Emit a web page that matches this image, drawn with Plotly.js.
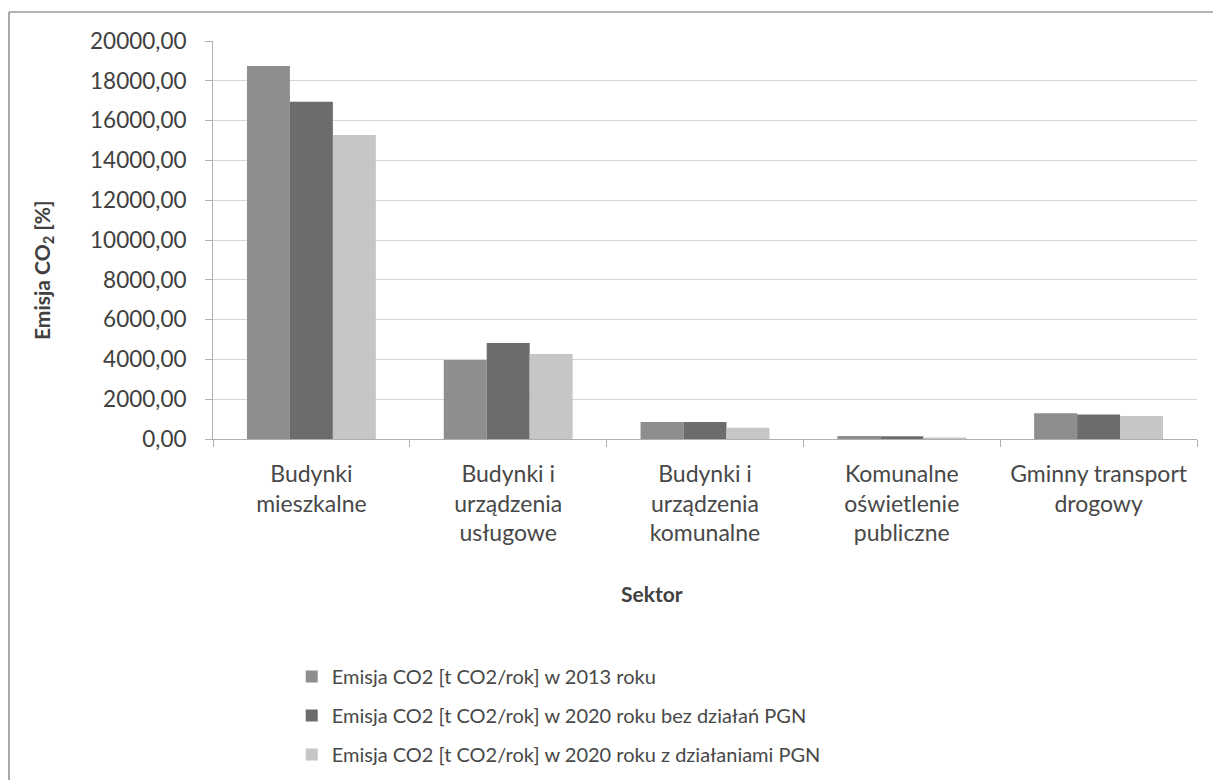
<!DOCTYPE html>
<html>
<head>
<meta charset="utf-8">
<script src="https://cdn.plot.ly/plotly-3.0.1.min.js"></script>
<style>
  html, body { margin: 0; padding: 0; background: #fff; }
  #chart { width: 1213px; height: 780px; }
</style>
</head>
<body>
<div id="chart"></div>
<script>
const categories = [
  "Budynki<br>mieszkalne",
  "Budynki i<br>urządzenia<br>usługowe",
  "Budynki i<br>urządzenia<br>komunalne",
  "Komunalne<br>oświetlenie<br>publiczne",
  "Gminny transport<br>drogowy"
];
const seriesNames = [
  "Emisja CO2 [t CO2/rok] w 2013 roku",
  "Emisja CO2 [t CO2/rok] w 2020 roku bez działań PGN",
  "Emisja CO2 [t CO2/rok] w 2020 roku z działaniami PGN"
];
const emisja2013 = [18750, 3970, 860, 150, 1300];
const emisja2020bez = [16950, 4820, 850, 140, 1230];
const emisja2020z = [15280, 4270, 560, 70, 1150];
const yTicks = [0, 2000, 4000, 6000, 8000, 10000, 12000, 14000, 16000, 18000, 20000];

const colors = ["#8e8e8e", "#6c6c6c", "#c6c6c6"];
const values = [emisja2013, emisja2020bez, emisja2020z];
const FONT = "Lato, 'Open Sans', sans-serif";

const traces = values.map((v, i) => ({
  type: "bar",
  x: categories,
  y: v,
  name: seriesNames[i],
  legendgroup: "g" + i,
  marker: { color: colors[i], line: { color: colors[i], width: 0 } },
  hoverinfo: "skip"
}));

const layout = {
  width: 1213,
  height: 780,
  paper_bgcolor: "#ffffff",
  plot_bgcolor: "#ffffff",
  separators: ", ",
  margin: { l: 213, r: 16, t: 41, b: 341, autoexpand: false },
  barmode: "group",
  bargap: 0.345,
  bargroupgap: 0,
  font: { family: FONT, color: "#404040", size: 20 },
  showlegend: true,
  legend: {
    orientation: "v",
    x: 0.080, xanchor: "left",
    y: -0.548, yanchor: "top",
    font: { family: FONT, size: 20, color: "#484848" },
    tracegroupgap: 10,
    itemwidth: 30,
    traceorder: "grouped",
    bgcolor: "rgba(0,0,0,0)"
  },
  xaxis: {
    type: "category",
    showgrid: false,
    showline: true,
    linecolor: "#b0b0b0",
    linewidth: 1,
    ticks: "outside",
    tickson: "boundaries",
    ticklen: 7,
    tickcolor: "#b0b0b0",
    tickfont: { family: FONT, size: 23, color: "#484848" },
    ticklabelstandoff: 14,
    fixedrange: true
  },
  yaxis: {
    range: [0, 20000],
    tickvals: yTicks,
    tickformat: ".2f",
    showgrid: true,
    gridcolor: "#d6d6d6",
    gridwidth: 1,
    showline: true,
    linecolor: "#b0b0b0",
    linewidth: 1,
    ticks: "outside",
    ticklen: 7,
    tickcolor: "#b0b0b0",
    tickfont: { family: FONT, size: 22.5, color: "#404040" },
    ticklabelstandoff: 14,
    zeroline: false,
    fixedrange: true
  },
  annotations: [
    {
      xref: "paper", yref: "paper",
      x: -0.1728, y: 0.4246,
      xanchor: "center", yanchor: "middle",
      textangle: -90,
      showarrow: false,
      text: "<b>Emisja CO<sub>2</sub> [%]</b>",
      font: { family: FONT, size: 21, color: "#404040" }
    },
    {
      xref: "paper", yref: "paper",
      x: 0.446, y: -0.387,
      xanchor: "center", yanchor: "middle",
      showarrow: false,
      text: "<b>Sektor</b>",
      font: { family: FONT, size: 21, color: "#404040" }
    }
  ],
  shapes: [
    {
      type: "line", xref: "paper", yref: "paper",
      x0: -0.2073, x1: -0.2073, y0: 1.0729, y1: -0.86,
      line: { color: "#8a8a8a", width: 1.5 }
    },
    {
      type: "line", xref: "paper", yref: "paper",
      x0: -0.2073, x1: 1.02, y0: 1.0729, y1: 1.0729,
      line: { color: "#9a9a9a", width: 1.5 }
    }
  ]
};

Plotly.newPlot("chart", traces, layout, { displayModeBar: false, staticPlot: true });
</script>
</body>
</html>
